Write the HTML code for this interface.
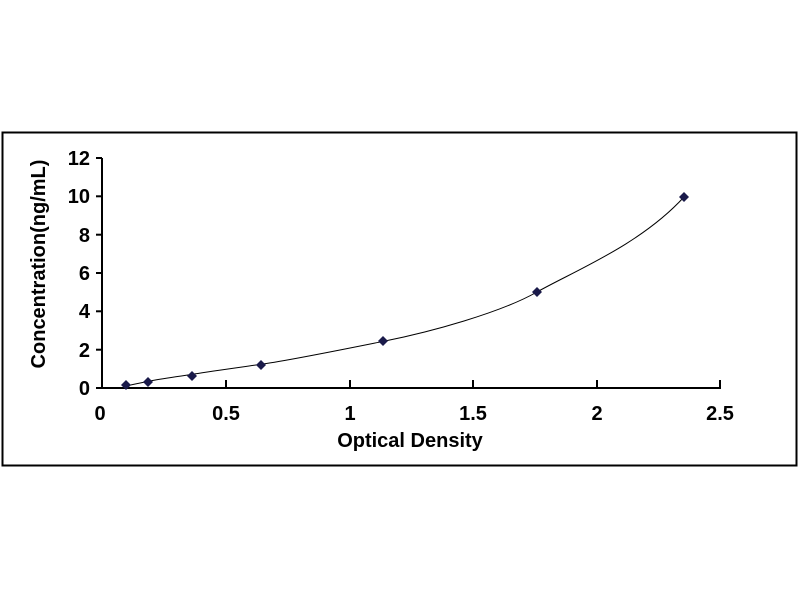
<!DOCTYPE html>
<html><head><style>body{margin:0;background:#fff}svg{display:block}</style></head><body>
<svg width="800" height="600" xmlns="http://www.w3.org/2000/svg" font-family="Liberation Sans, Arial, sans-serif" font-weight="bold">
<rect x="2.5" y="132.5" width="794" height="333" fill="#fff" stroke="#000" stroke-width="2"/>
<g stroke="#000" stroke-width="2" fill="none">
<line x1="102" y1="158" x2="102" y2="389"/>
<line x1="101" y1="388" x2="721" y2="388"/>
<line x1="96" y1="158" x2="102" y2="158"/><line x1="96" y1="196.3" x2="102" y2="196.3"/><line x1="96" y1="234.7" x2="102" y2="234.7"/><line x1="96" y1="273" x2="102" y2="273"/><line x1="96" y1="311.3" x2="102" y2="311.3"/><line x1="96" y1="349.7" x2="102" y2="349.7"/><line x1="96" y1="388" x2="102" y2="388"/>
<line x1="226" y1="380" x2="226" y2="388"/><line x1="350" y1="380" x2="350" y2="388"/><line x1="473" y1="380" x2="473" y2="388"/><line x1="597" y1="380" x2="597" y2="388"/><line x1="720" y1="380" x2="720" y2="388"/>
</g>
<g font-size="20" text-anchor="end" fill="#000">
<text x="90" y="165">12</text><text x="90" y="203">10</text><text x="90" y="242">8</text><text x="90" y="280">6</text><text x="90" y="318">4</text><text x="90" y="357">2</text><text x="90" y="395">0</text>
</g>
<g font-size="20" text-anchor="middle" fill="#000">
<text x="100" y="420">0</text><text x="226" y="420">0.5</text><text x="350" y="420">1</text><text x="473" y="420">1.5</text><text x="597" y="420">2</text><text x="720" y="420">2.5</text>
</g>
<text x="410" y="447" font-size="20" text-anchor="middle">Optical Density</text>
<text transform="translate(45,264) rotate(-90)" font-size="20" text-anchor="middle">Concentration(ng/mL)</text>
<path d="M126,386 C135,384 140,383 150,381 S175,377 194,374 S235,368 263,364 S340,350 385,341 S500,313 537,292 S640,245 684,197" fill="none" stroke="#000" stroke-width="1"/>
<g fill="#1a1a4a">
<path d="M126,380 l5,5 l-5,5 l-5,-5z"/><path d="M148,377 l5,5 l-5,5 l-5,-5z"/><path d="M192,371 l5,5 l-5,5 l-5,-5z"/><path d="M261,360 l5,5 l-5,5 l-5,-5z"/><path d="M383,336 l5,5 l-5,5 l-5,-5z"/><path d="M537,287 l5,5 l-5,5 l-5,-5z"/><path d="M684,192 l5,5 l-5,5 l-5,-5z"/>
</g>
</svg>
</body></html>
